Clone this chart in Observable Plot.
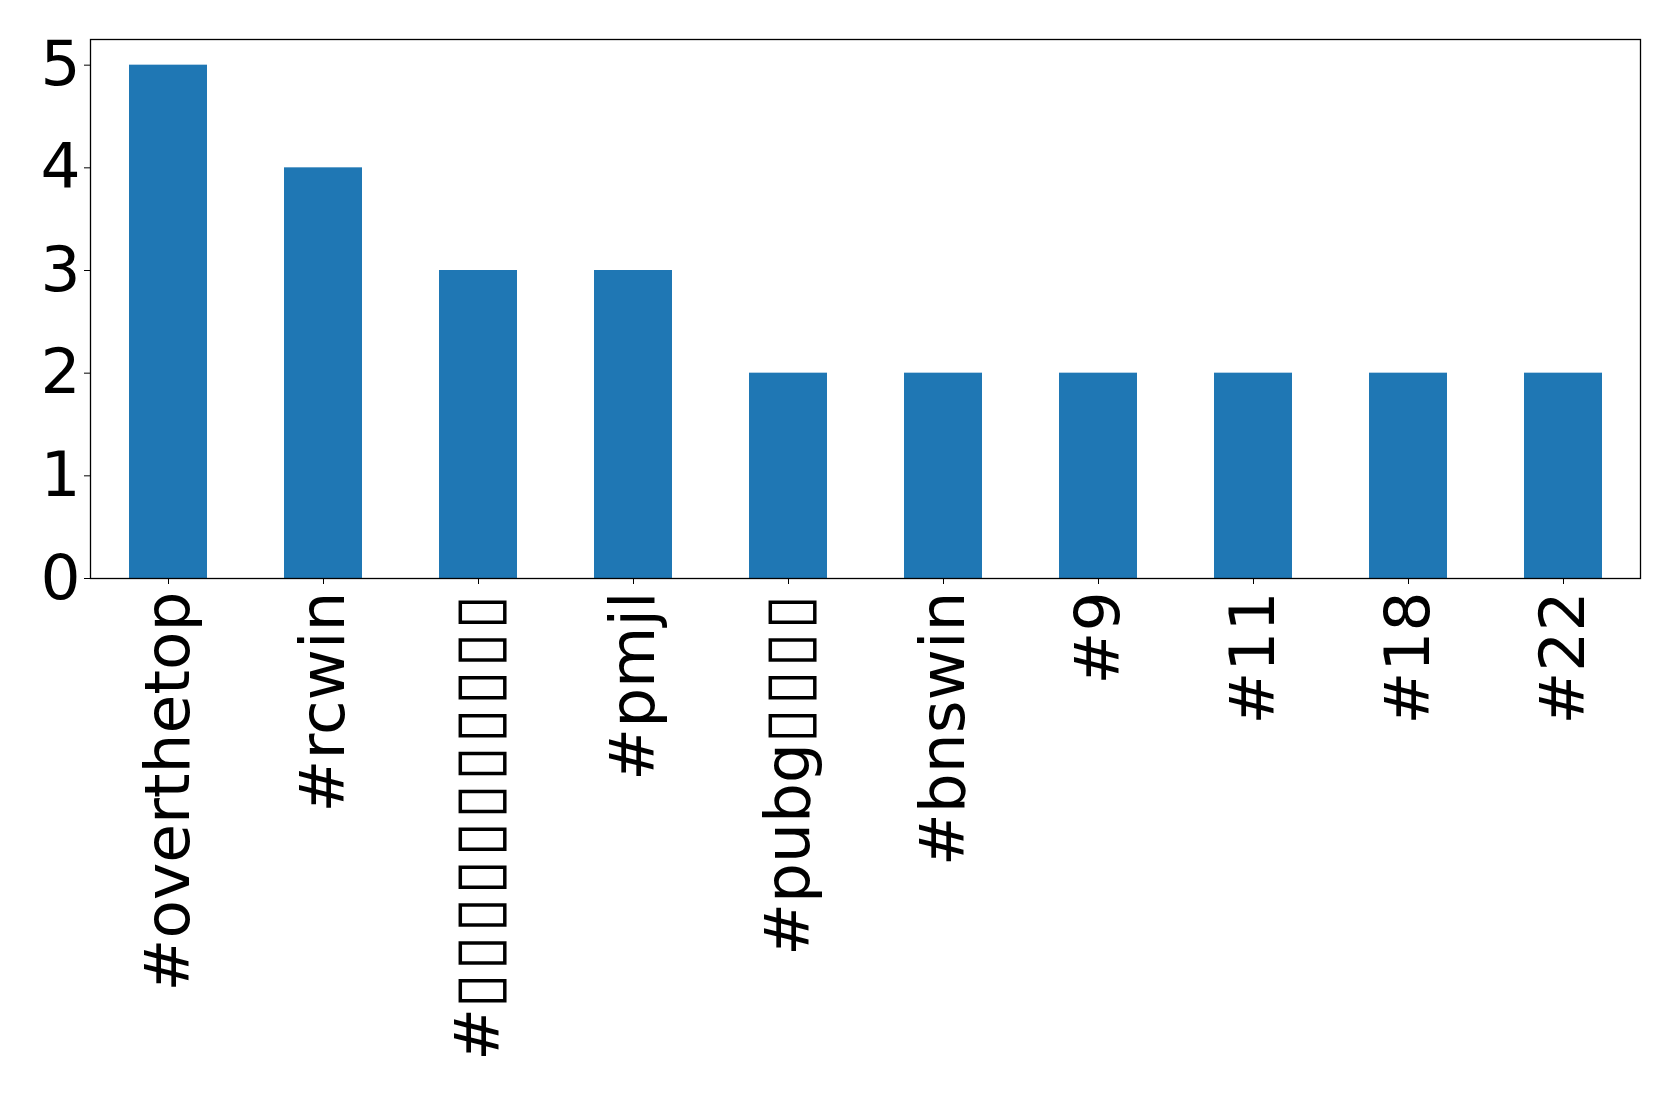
<!DOCTYPE html>
<html>
<head>
<meta charset="utf-8">
<script src="https://cdn.jsdelivr.net/npm/d3@7"></script>
<script src="https://cdn.jsdelivr.net/npm/@observablehq/plot@0.6"></script>
<style>
  html, body { margin: 0; padding: 0; background: #fff; overflow: hidden; }
  #chart svg { display: block; }
</style>
</head>
<body>
<div id="chart"></div>
<script>
const tags = ["#overthetop", "#rcwin", "#▯▯▯▯▯▯▯▯▯▯▯", "#pmjl", "#pubg▯▯▯▯", "#bnswin", "#9", "#11", "#18", "#22"];
const counts = [5, 4, 3, 3, 2, 2, 2, 2, 2, 2];
const yTicks = [0, 1, 2, 3, 4, 5];

const data = tags.map((t, i) => ({tag: t, count: counts[i]}));

const chart = Plot.plot({
  width: 1679,
  height: 1093,
  marginLeft: 90,
  marginRight: 39,
  marginTop: 39,
  marginBottom: 515,
  style: {fontFamily: "'DejaVu Sans', sans-serif", fontSize: "63px", background: "white", color: "black"},
  x: {type: "band", domain: tags, paddingInner: 0.5, paddingOuter: 0.25, label: null},
  y: {domain: [0, 5.25], label: null},
  marks: [
    Plot.barY(data, {x: "tag", y: "count", fill: "#1f77b4"}),
    Plot.frame({stroke: "black", strokeWidth: 1.3}),
    Plot.axisX({tickRotate: -90, tickSize: 6, tickPadding: 7, fontSize: 63, label: null}),
    Plot.axisY({ticks: yTicks, tickSize: 6, tickPadding: 4, fontSize: 63, label: null, tickFormat: d => String(d)})
  ]
});

// widen the placeholder (missing-glyph) boxes slightly to match the reference spacing
chart.querySelectorAll("text").forEach(t => {
  const s = t.textContent;
  if (!s.includes("▯")) return;
  t.textContent = "";
  for (const part of s.match(/▯+|[^▯]+/g)) {
    const ts = document.createElementNS("http://www.w3.org/2000/svg", "tspan");
    ts.textContent = part;
    if (part[0] === "▯") ts.setAttribute("letter-spacing", "3.2");
    t.appendChild(ts);
  }
});

document.getElementById("chart").appendChild(chart);
</script>
</body>
</html>
